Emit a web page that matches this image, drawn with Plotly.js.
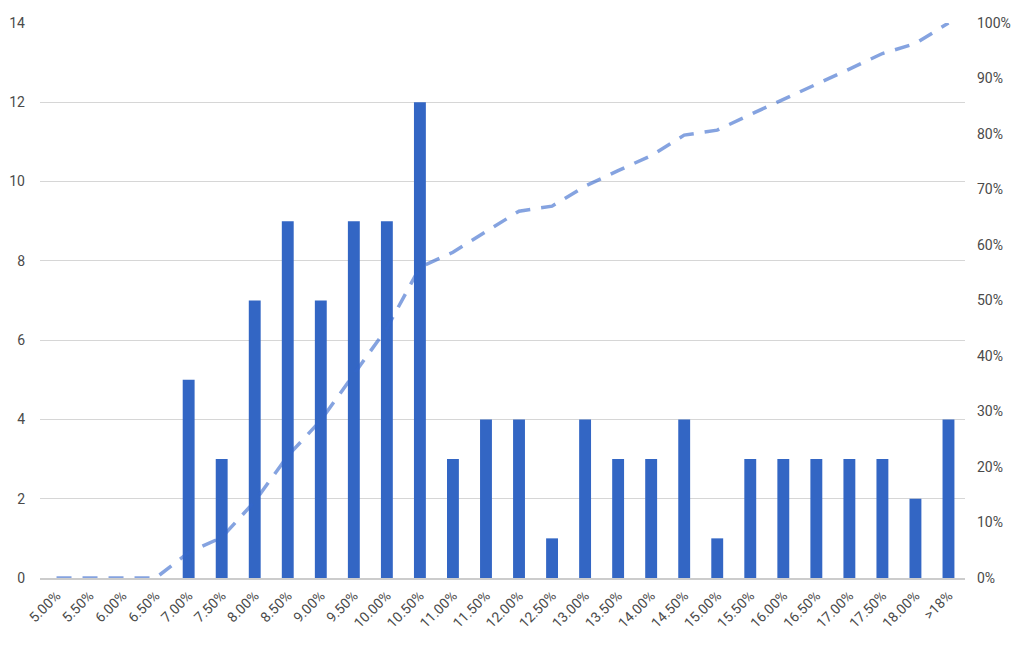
<!DOCTYPE html>
<html>
<head>
<meta charset="utf-8">
<script src="https://cdn.plot.ly/plotly-3.0.1.min.js"></script>
<style>html,body{margin:0;padding:0;background:#fff;}#chart{width:1024px;height:646px;}</style>
</head>
<body>
<div id="chart"></div>
<script>
const categories = ["5.00%","5.50%","6.00%","6.50%","7.00%","7.50%","8.00%","8.50%","9.00%","9.50%","10.00%","10.50%","11.00%","11.50%","12.00%","12.50%","13.00%","13.50%","14.00%","14.50%","15.00%","15.50%","16.00%","16.50%","17.00%","17.50%","18.00%",">18%"];
const counts = [0,0,0,0,5,3,7,9,7,9,9,12,3,4,4,1,4,3,3,4,1,3,3,3,3,3,2,4];
const cumulative = [0,0,0,0,0.046,0.073,0.138,0.220,0.284,0.367,0.450,0.560,0.587,0.624,0.661,0.670,0.706,0.734,0.761,0.798,0.807,0.835,0.862,0.890,0.917,0.945,0.963,1.0];

const font = {family: "Roboto, Arial, sans-serif", size: 14, color: "#4a4a4a"};

const data = [
  {type: "bar", x: categories, y: counts, marker: {color: "#3366c4"}, hoverinfo: "x+y", name: "Frequency"},
  {type: "scatter", mode: "lines", x: categories, y: cumulative, yaxis: "y2", name: "Cumulative %",
   line: {color: "rgba(51,102,204,0.6)", width: 3.5, dash: "15px,11px"}}
];

const layout = {
  width: 1024, height: 646,
  margin: {l: 40, r: 59, t: 23, b: 68},
  paper_bgcolor: "#ffffff", plot_bgcolor: "#ffffff",
  showlegend: false,
  bargap: 0.64,
  font: font,
  xaxis: {
    type: "category", range: [-0.5, 27.5], tickangle: -45, tickfont: font,
    showgrid: false, zeroline: false, showline: true, linecolor: "#cccccc", linewidth: 2,
    ticks: "", automargin: false, ticklabelstandoff: 2
  },
  yaxis: {
    range: [0, 14], dtick: 2, tickfont: font, gridcolor: "#d6d6d6", gridwidth: 1,
    zeroline: false, showline: false, ticks: "", automargin: false, ticklabelstandoff: 14
  },
  yaxis2: {
    overlaying: "y", side: "right", range: [0, 1], dtick: 0.1, tickformat: ".0%",
    tickfont: font, showgrid: false, zeroline: false, showline: false, automargin: false,
    ticklabelstandoff: 11
  }
};

Plotly.newPlot("chart", data, layout, {displayModeBar: false, staticPlot: true});
</script>
</body>
</html>
